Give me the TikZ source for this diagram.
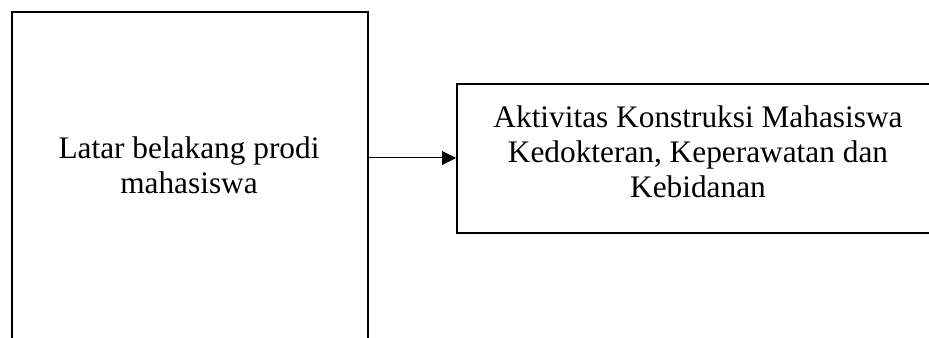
\documentclass[tikz,border=0pt]{standalone}
\usepackage{fontspec}
\setmainfont{Liberation Serif}
\usetikzlibrary{arrows.meta}
\begin{document}
\begin{tikzpicture}[x=0.75pt,y=-0.75pt,
  boxstyle/.style={draw=black,line width=1.5pt,rectangle,inner sep=0pt},
  txtstyle/.style={align=center,inner sep=0pt,font=\fontsize{23.5}{26.25}\selectfont},
  arrowstyle/.style={line width=0.75pt,-{Triangle[length=10.5pt,width=10.5pt]}}]
\useasboundingbox (0,0) rectangle (929,338);
\clip (0,0) rectangle (929,338);
\node[boxstyle,minimum width=267pt,minimum height=261pt] (leftbox) at (190,186) {};
\node[txtstyle] (lefttext) at (189,165.5) {Latar belakang prodi\\mahasiswa};
\node[boxstyle,minimum width=361.5pt,minimum height=111.75pt] (rightbox) at (698,158.5) {};
\node[txtstyle] (righttext) at (698,151.5) {Aktivitas Konstruksi Mahasiswa\\Kedokteran, Keperawatan dan\\Kebidanan};
\draw[arrowstyle] (leftbox.east |- 0,158) -- (rightbox.west |- 0,158);
\end{tikzpicture}
\end{document}
